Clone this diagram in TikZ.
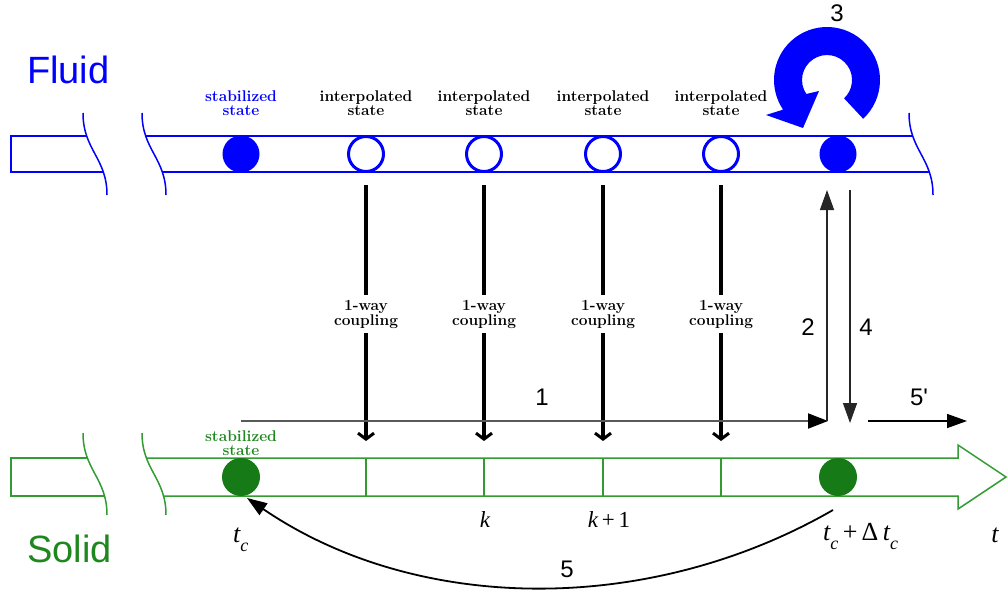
\documentclass[tikz,border=0pt]{standalone}
\usepackage{fontspec}
\newfontfamily\arialf{Liberation Sans}
\newfontfamily\tmsf{Liberation Serif}
\usetikzlibrary{arrows.meta}
\definecolor{fblue}{RGB}{0,0,255}
\definecolor{sgreen}{RGB}{50,155,50}
\definecolor{dgreen}{RGB}{22,122,22}
\definecolor{lgreen}{RGB}{30,135,30}
\newcommand{\lowc}{\raisebox{-9pt}{\fontsize{18}{18}\selectfont c}}
\tikzset{
  fdot/.style={circle, fill=fblue, minimum size=37pt, inner sep=0pt},
  odot/.style={circle, draw=fblue, line width=3pt, fill=white, minimum size=35pt, inner sep=0pt},
  gdot/.style={circle, fill=dgreen, minimum size=38pt, inner sep=0pt},
  smalllab/.style={font=\fontsize{15.5}{14}\selectfont\bfseries, align=center, inner sep=0pt},
  couplab/.style={font=\fontsize{15.5}{15}\selectfont\bfseries, align=center, inner xsep=0pt, inner ysep=5pt},
  bignum/.style={font=\arialf\fontsize{24}{24}\selectfont, inner sep=0pt, anchor=base},
  mathlab/.style={font=\tmsf\itshape\fontsize{26}{26}\selectfont, inner sep=0pt, anchor=base west},
  mathsmall/.style={font=\tmsf\itshape\fontsize{23}{23}\selectfont, inner sep=0pt, anchor=base},
  fbar/.style={color=fblue, line width=1.5pt},
  sbar/.style={color=sgreen, line width=1.5pt},
  couplelead/.style={line width=4pt, black},
  couple/.style={line width=4pt, black, -{Straight Barb[length=6pt,width=16pt,line width=3pt]}},
  thinarrow/.style={line width=1.5pt, black!85, -{Triangle[length=20pt,width=14pt]}},
  grayarrow/.style={line width=2pt, black!65, -{Triangle[length=20pt,width=15pt,fill=black,color=black]}},
  brk/.pic={\draw (0,0) .. controls (0,37) and (24,45) .. (24,82);}
}
\begin{document}
\begin{tikzpicture}[x=1pt,y=-1pt]
\useasboundingbox (0,0) rectangle (1008,594);

% ---------------- Fluid bar
\draw[fbar] (86.7,136) -- (11,136) -- (11,172) -- (103.3,172);
\draw[fbar] (145.7,136) -- (912.7,136);
\draw[fbar] (162.3,172) -- (929.3,172);
\pic[fbar] at (83,113) {brk};
\pic[fbar] at (142,113) {brk};
\pic[fbar] at (909,113) {brk};

% ---------------- Solid bar
\draw[sbar] (87.4,458) -- (11,458) -- (11,496) -- (104.5,496);
\draw[sbar] (146.4,458) -- (958,458) -- (958,445) -- (1006,477) -- (958,509) -- (958,496) -- (163.5,496);
\pic[sbar] at (83,433) {brk};
\pic[sbar] at (142,433) {brk};
\foreach \xx in {366,484,603,721} \draw[sbar, line width=1.2pt] (\xx,458) -- (\xx,496);

% ---------------- dots
\node[fdot] (f0) at (241,154) {};
\node[odot] (f1) at (366,154) {};
\node[odot] (f2) at (484,154) {};
\node[odot] (f3) at (603,154) {};
\node[odot] (f4) at (721,154) {};
\node[fdot] (f5) at (838,154) {};
\node[gdot] (s0) at (241,477) {};
\node[gdot] (s5) at (838,477) {};

% ---------------- small labels
\node[smalllab, text=fblue] (lf0) at (241,102.8) {stabilized\\state};
\node[smalllab] (lf1) at (366,102.8) {interpolated\\state};
\node[smalllab] (lf2) at (484,102.8) {interpolated\\state};
\node[smalllab] (lf3) at (603,102.8) {interpolated\\state};
\node[smalllab] (lf4) at (721,102.8) {interpolated\\state};
\node[smalllab, text=lgreen] (ls0) at (241,443.5) {stabilized\\state};

% ---------------- big labels
\node[font=\arialf\fontsize{38}{38}\selectfont, text=fblue, inner sep=0pt, anchor=base west] (fluid) at (27,83) {Fluid};
\node[font=\arialf\fontsize{38}{38}\selectfont, text=lgreen, inner sep=0pt, anchor=base west] (solid) at (27,562) {Solid};

% ---------------- coupling arrows
\foreach \i/\xx in {1/366,2/484,3/603,4/721}{
  \coordinate (ct\i) at (\xx,185);
  \coordinate (cb\i) at (\xx,441);
  \node[couplab] (cl\i) at (\xx,314) {1-way\\coupling};
  \draw[couplelead] (ct\i) -- (cl\i);
  \draw[couple] (cl\i) -- (cb\i);
}

% ---------------- process arrows
\coordinate (a1s) at (241,421);
\coordinate (a1e) at (828,421);
\coordinate (a2s) at (827,421);
\coordinate (a2e) at (827,190);
\coordinate (a4s) at (850,190);
\coordinate (a4e) at (850,423);
\coordinate (a5ps) at (868,421);
\coordinate (a5pe) at (967,421);
\coordinate (a5s) at (833,510);
\coordinate (a5e) at (247,498);
\draw[grayarrow] (a1s) -- (a1e);
\draw[thinarrow] (a2s) -- (a2e);
\draw[thinarrow] (a4s) -- (a4e);
\draw[thinarrow, black] (a5ps) -- (a5pe);
\draw[thinarrow, black, line width=1.8pt] (a5s) .. controls (649,616) and (417,614) .. (a5e);

% ---------------- blue circular arrow (3)
\fill[fblue] (827,80) ++(47:53) arc[start angle=47, end angle=-214, radius=53]
  -- (766,115) -- (803,128) -- (819,91) -- (806.3,94)
  arc[start angle=-214, end angle=47, radius=25] -- cycle;

% ---------------- numbers
\node[bignum] (n3) at (837,22) {3};
\node[bignum] (n1) at (542,405) {1};
\node[bignum] (n2) at (808,335) {2};
\node[bignum] (n4) at (866,335) {4};
\node[bignum] (n5p) at (919,405) {5'};
\node[bignum] (n5) at (567,577) {5};

% ---------------- time labels
\node[mathlab] (ltc) at (233,542) {t\lowc};
\node[mathsmall] (lk) at (485,527) {k};
\node[mathsmall] (lk1) at (609,527) {k{\upshape\,+\,1}};
\node[mathlab] (ltd) at (823,540) {t\lowc{\upshape\,+\,Δ}\,t\lowc};
\node[mathlab, anchor=base] (lt) at (995,542) {t};
\end{tikzpicture}
\end{document}
